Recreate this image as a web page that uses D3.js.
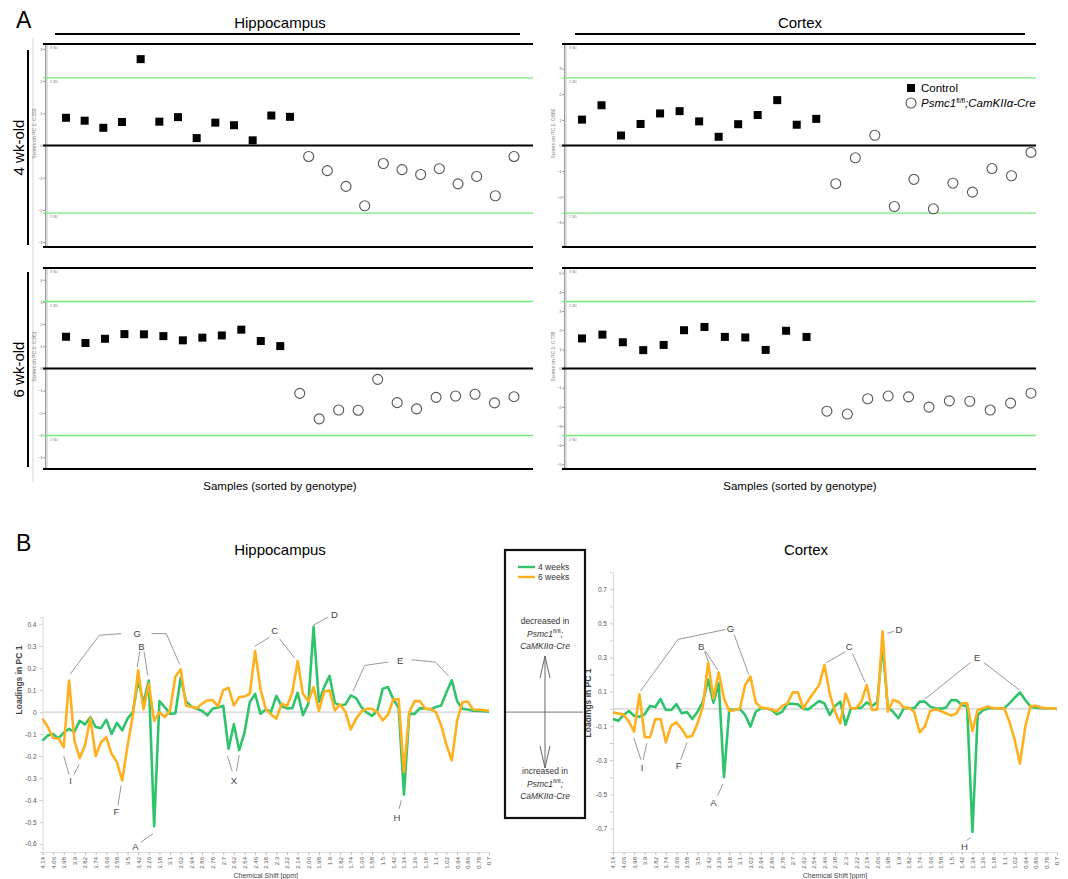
<!DOCTYPE html>
<meta charset="utf-8">
<style>
    body { margin: 0; background: #fff; }
    svg text { font-family: "Liberation Sans", Arial, sans-serif; }
</style>
<body>
<script src="https://d3js.org/d3.v7.min.js"></script>
<script>

    // ---- Panel A: PC1 scores per sample (control first, then Psmc1 cKO)
    var hippo4Ctrl = [0.86, 0.77, 0.55, 0.73, 2.68, 0.74, 0.88, 0.23, 0.71, 0.63, 0.16, 0.93, 0.89];
    var hippo4Ko = [-0.34, -0.78, -1.27, -1.87, -0.56, -0.75, -0.90, -0.72, -1.19, -0.96, -1.56, -0.34];
    var cortex4Ctrl = [1.01, 1.57, 0.39, 0.84, 1.25, 1.34, 0.94, 0.34, 0.83, 1.19, 1.77, 0.81, 1.04];
    var cortex4Ko = [-1.49, -0.48, 0.40, -2.38, -1.32, -2.47, -1.47, -1.82, -0.90, -1.18, -0.27];
    var hippo6Ctrl = [1.43, 1.15, 1.34, 1.55, 1.54, 1.46, 1.27, 1.39, 1.49, 1.75, 1.24, 1.01];
    var hippo6Ko = [-1.12, -2.27, -1.87, -1.88, -0.49, -1.54, -1.82, -1.30, -1.24, -1.16, -1.55, -1.27];
    var cortex6Ctrl = [1.57, 1.77, 1.37, 0.96, 1.23, 2.00, 2.17, 1.65, 1.62, 0.97, 1.97, 1.65];
    var cortex6Ko = [-2.23, -2.38, -1.58, -1.44, -1.48, -2.02, -1.69, -1.71, -2.17, -1.81, -1.29];
    var scoreSD = [1.05, 1.32, 1.51, 1.75];           // 1 SD in score units, per panel
    var pcExplained = ["0.333", "0.660", "0.561", "0.739"];

    // ---- Panel B: PC1 loadings per chemical-shift bin
    var shifts = [4.14, 4.10, 4.06, 4.02, 3.98, 3.94, 3.90, 3.86, 3.82, 3.78, 3.74, 3.70, 3.66, 3.62, 3.58, 3.54, 3.50, 3.46, 3.42,
        3.30, 3.26, 3.22, 3.18, 3.14, 3.10, 3.06, 3.02, 2.98, 2.94, 2.90, 2.86, 2.82, 2.78, 2.74, 2.70, 2.66, 2.62, 2.58, 2.54, 2.50,
        2.46, 2.42, 2.38, 2.34, 2.30, 2.26, 2.22, 2.18, 2.14, 2.10, 2.06, 2.02, 1.98, 1.94, 1.90, 1.86, 1.82, 1.78, 1.74, 1.70,
        1.66, 1.62, 1.58, 1.54, 1.50, 1.46, 1.42, 1.38, 1.34, 1.30, 1.26, 1.22, 1.18, 1.14, 1.10, 1.06, 1.02, 0.98, 0.94, 0.90,
        0.86, 0.82, 0.78, 0.74, 0.70];

    var hippoLoad4 = [-0.13, -0.106, -0.10, -0.12, -0.094, -0.076, -0.09, -0.04, -0.056, -0.023,
        -0.068, -0.073, -0.035, -0.099, -0.049, -0.083, -0.03, 0.0, 0.144, 0.042,
        0.144, -0.52, 0.05, 0.023, -0.008, -0.005, 0.156, 0.049, 0.026, 0.015,
        0.006, -0.015, 0.015, 0.021, 0.029, -0.167, -0.055, -0.173, -0.094, 0.046,
        0.083, -0.008, 0.012, 0.002, 0.074, 0.026, 0.017, 0.018, 0.088, -0.014,
        0.038, 0.388, 0.046, 0.114, 0.165, 0.042, 0.03, 0.035, 0.076, 0.064,
        0.023, -0.002, -0.017, 0.006, 0.106, 0.114, 0.058, 0.02, -0.376, -0.008,
        -0.008, 0.018, 0.015, 0.012, 0.023, 0.03, 0.09, 0.145, 0.05, 0.015,
        0.012, 0.006, 0.005, 0.004, 0.002];
    var hippoLoad6 = [-0.03, -0.068, -0.118, -0.12, -0.16, 0.144, -0.13, -0.21, -0.15, -0.027,
        -0.20, -0.137, -0.114, -0.19, -0.228, -0.311, -0.152, -0.015, 0.19, 0.012,
        0.129, -0.04, 0.0, -0.023, 0.008, 0.162, 0.194, 0.03, 0.023, 0.018,
        0.038, 0.053, 0.055, 0.026, 0.10, 0.111, 0.03, 0.068, 0.071, 0.083,
        0.278, 0.106, 0.015, -0.011, -0.03, 0.038, 0.027, 0.091, 0.232, 0.083,
        0.049, 0.114, 0.005, 0.094, 0.099, 0.008, 0.035, 0.0, -0.079, -0.03,
        0.003, 0.015, 0.015, 0.0, -0.038, -0.012, 0.058, 0.058, -0.273, 0.0,
        0.05, 0.05, 0.015, 0.015, 0.0, -0.06, -0.15, -0.22, -0.04, 0.045,
        0.048, 0.012, 0.011, 0.009, 0.006];
    var cortexLoad4 = [-0.06, -0.07, -0.036, -0.013, -0.04, -0.046, -0.032, 0.017, 0.011, 0.057,
        -0.007, -0.007, 0.028, -0.026, -0.018, -0.06, -0.017, 0.042, 0.172, 0.036,
        0.149, -0.40, -0.003, -0.007, 0.0, -0.036, -0.104, -0.017, 0.003, 0.003,
        -0.007, -0.032, -0.017, 0.03, 0.03, 0.026, 0.0, -0.003, 0.022, 0.046,
        0.032, -0.036, 0.017, 0.042, -0.094, 0.003, 0.003, 0.007, 0.038, 0.017,
        0.038, 0.372, 0.007, -0.017, -0.055, 0.003, 0.003, 0.003, 0.042, 0.042,
        0.013, 0.003, 0.0, 0.007, 0.052, 0.05, 0.022, 0.013, -0.72, -0.036,
        -0.009, 0.003, 0.003, 0.003, 0.003, 0.032, 0.065, 0.096, 0.052, 0.013,
        0.007, 0.003, 0.003, 0.003, 0.0];
    var cortexLoad6 = [-0.02, -0.028, -0.032, -0.075, -0.133, 0.085, -0.166, -0.166, -0.061, -0.06,
        -0.195, -0.098, -0.079, -0.118, -0.166, -0.157, -0.085, 0.013, 0.271, 0.061,
        0.213, 0.061, -0.013, -0.007, 0.0, 0.139, 0.188, 0.038, 0.007, 0.003,
        -0.003, -0.017, 0.017, 0.032, 0.096, 0.096, 0.003, 0.052, 0.096, 0.139,
        0.256, 0.09, -0.017, -0.085, 0.09, 0.003, 0.003, 0.042, 0.139, -0.007,
        -0.003, 0.454, -0.017, 0.052, 0.042, 0.007, 0.007, -0.02, -0.137, -0.104,
        -0.013, -0.003, -0.013, -0.026, -0.04, -0.026, 0.032, 0.032, -0.13, -0.007,
        0.003, 0.013, 0.003, 0.003, 0.003, -0.075, -0.182, -0.32, -0.104, 0.017,
        0.018, 0.007, 0.003, 0.003, 0.0];

    // peak annotations: label position and leader lines, in (bin index, loading)
    var hippoNotes = [
        {t: "G", p: [17.8, 0.357], l: [[[5.2, 0.173], [10.7, 0.35], [14.8, 0.357]], [[20.5, 0.358], [23.3, 0.357], [25.8, 0.217]]]},
        {t: "B", p: [18.6, 0.296], l: [[[18.3, 0.276], [17.8, 0.205]], [[19.1, 0.276], [19.8, 0.167]]]},
        {t: "I", p: [5.3, -0.314], l: [[[4.0, -0.2], [5.0, -0.285]], [[6.9, -0.238], [5.9, -0.285]]]},
        {t: "F", p: [13.9, -0.455], l: [[[14.2, -0.425], [14.8, -0.334]]]},
        {t: "A", p: [17.5, -0.612], l: [[[18.5, -0.592], [20.8, -0.554]]]},
        {t: "X", p: [36, -0.313], l: [[[34.8, -0.2], [35.7, -0.27]], [[37, -0.197], [36.5, -0.27]]]},
        {t: "C", p: [43.7, 0.369], l: [[[39.9, 0.299], [42.7, 0.341]], [[44.6, 0.334], [47.4, 0.247]]]},
        {t: "D", p: [54.9, 0.443], l: [[[50.9, 0.395], [53.7, 0.432]]]},
        {t: "E", p: [67.3, 0.234], l: [[[58.4, 0.094], [60.6, 0.212], [65, 0.228]], [[69.4, 0.238], [73.9, 0.228], [76.4, 0.164]]]},
        {t: "H", p: [66.7, -0.481], l: [[[67.1, -0.44], [67.5, -0.402]]]}
    ];
    var cortexNotes = [
        {t: "G", p: [22.2, 0.466], l: [[[5.2, 0.104], [12.3, 0.406], [21.3, 0.464]], [[22.9, 0.435], [25.7, 0.2]]]},
        {t: "B", p: [16.7, 0.365], l: [[[17.3, 0.337], [18, 0.28]], [[17.5, 0.337], [19.8, 0.227]]]},
        {t: "I", p: [5.5, -0.343], l: [[[3.9, -0.168], [5.3, -0.298]], [[6.4, -0.201], [5.7, -0.298]]]},
        {t: "F", p: [12.4, -0.334], l: [[[12.8, -0.298], [14, -0.197]]]},
        {t: "A", p: [19, -0.548], l: [[[19.8, -0.507], [20.8, -0.44]]]},
        {t: "C", p: [44.7, 0.363], l: [[[40.4, 0.271], [44, 0.334]], [[45.3, 0.324], [47.7, 0.155]]]},
        {t: "D", p: [54.1, 0.46], l: [[[51.9, 0.441], [53.2, 0.454]]]},
        {t: "E", p: [68.9, 0.3], l: [[[59, 0.057], [67.6, 0.27]], [[70.2, 0.27], [76.9, 0.11]]]},
        {t: "H", p: [66.5, -0.803], l: [[[66.9, -0.77], [67.7, -0.75]]]}
    ];

    var green = "#2fc46b", orange = "#ffb01e";
    var cko = [["Psmc1", "i"], ["fl/fl", "sup"], [";CamKIIα-Cre", "i"]];

    var svg = d3.select("body").append("svg")
        .attr("width", 1068)
        .attr("height", 879);

    // text with italic / superscript runs
    function rich(text, parts, supSize) {
        var up = false;
        parts.forEach(function(p) {
            var ts = text.append("tspan").text(p[0]);
            if (p[1] === "i") ts.style("font-style", "italic");
            if (p[1] === "sup") { ts.attr("dy", -4).style("font-size", supSize + "px"); up = true; }
            else if (up) { ts.attr("dy", 4); up = false; }
        });
        return text;
    }

    // ================= Panel A =================
    svg.append("text").attr("x", 16).attr("y", 28).style("font-size", "23px").text("A");

    [["Hippocampus", 280, 55, 520], ["Cortex", 800, 575, 1025]].forEach(function(h) {
        svg.append("text").attr("x", h[1]).attr("y", 28).attr("text-anchor", "middle")
            .style("font-size", "15px").text(h[0]);
        svg.append("line").attr("x1", h[2]).attr("x2", h[3]).attr("y1", 34).attr("y2", 34)
            .attr("stroke", "#000").attr("stroke-width", 2);
    });

    [["4 wk-old", 50, 245], ["6 wk-old", 272, 467]].forEach(function(r) {
        var cy = (r[1] + r[2]) / 2;
        svg.append("line").attr("x1", 28).attr("x2", 28).attr("y1", r[1]).attr("y2", r[2])
            .attr("stroke", "#000").attr("stroke-width", 2);
        svg.append("text").attr("transform", "translate(19," + cy + ") rotate(-90)")
            .attr("text-anchor", "middle").attr("dy", "0.35em")
            .style("font-size", "15px").text(r[0]);
    });
    // outer frame line of the hippocampus score plots
    svg.append("line").attr("x1", 33).attr("x2", 33).attr("y1", 38).attr("y2", 482)
        .attr("stroke", "#d5d5d5").attr("stroke-width", 1);

    var scorePanels = [
        {ctrl: hippo4Ctrl, ko: hippo4Ko, sd: scoreSD[0], pc: pcExplained[0], bx0: 43, bx1: 533, px0: 66, px1: 514, top: 44, bottom: 247},
        {ctrl: cortex4Ctrl, ko: cortex4Ko, sd: scoreSD[1], pc: pcExplained[1], bx0: 562, bx1: 1036, px0: 582, px1: 1031, top: 44, bottom: 247},
        {ctrl: hippo6Ctrl, ko: hippo6Ko, sd: scoreSD[2], pc: pcExplained[2], bx0: 43, bx1: 533, px0: 66, px1: 514, top: 268, bottom: 469},
        {ctrl: cortex6Ctrl, ko: cortex6Ko, sd: scoreSD[3], pc: pcExplained[3], bx0: 562, bx1: 1036, px0: 582, px1: 1031, top: 268, bottom: 469}
    ];

    scorePanels.forEach(function(p) {
        var g = svg.append("g");
        var lim = 3 * p.sd;
        var y = d3.scaleLinear().domain([-lim, lim]).range([p.bottom, p.top]);
        var n = p.ctrl.length + p.ko.length;
        var x = d3.scaleLinear().domain([0, n - 1]).range([p.px0, p.px1]);
        var ax = p.bx0 + 2;

        // axis
        g.append("line").attr("x1", ax + 2).attr("x2", ax + 2).attr("y1", p.top).attr("y2", p.bottom)
            .attr("stroke", "#bbb");
        var axis = g.append("g").attr("transform", "translate(" + ax + ",0)")
            .call(d3.axisLeft(y).tickValues(d3.range(-Math.floor(lim), Math.floor(lim) + 1))
                .tickSize(2).tickFormat(d3.format("d")));
        axis.select(".domain").attr("stroke", "#999");
        axis.selectAll(".tick line").attr("stroke", "#999");
        axis.selectAll("text").style("font-size", "4px").attr("fill", "#666").attr("x", -2.5);
        g.append("text")
            .attr("transform", "translate(" + (ax - 9) + "," + ((p.top + p.bottom) / 2 - 12) + ") rotate(-90)")
            .attr("text-anchor", "middle").style("font-size", "5px").attr("fill", "#777")
            .text("Scores on PC 1: " + p.pc);

        // reference lines: 0 and +/-3 SD black, +/-2 SD green
        [lim, 0, -lim].forEach(function(v) {
            g.append("line").attr("x1", p.bx0).attr("x2", p.bx1).attr("y1", y(v)).attr("y2", y(v))
                .attr("stroke", "#000").attr("stroke-width", 2.2);
        });
        [2 * p.sd, -2 * p.sd].forEach(function(v) {
            g.append("line").attr("x1", p.bx0).attr("x2", p.bx1).attr("y1", y(v)).attr("y2", y(v))
                .attr("stroke", "#76ec76").attr("stroke-width", 1.4);
        });
        [[lim, "3 SD"], [2 * p.sd, "2 SD"], [-2 * p.sd, "2 SD"]].forEach(function(s) {
            g.append("text").attr("x", ax + 5).attr("y", y(s[0]) + 5)
                .style("font-size", "3.5px").attr("fill", "#777").text(s[1]);
        });

        g.selectAll("rect.ctrl").data(p.ctrl).enter().append("rect")
            .attr("x", function(d, i) { return x(i) - 4; })
            .attr("y", function(d) { return y(d) - 4; })
            .attr("width", 8).attr("height", 8).attr("fill", "#000");
        g.selectAll("circle.ko").data(p.ko).enter().append("circle")
            .attr("cx", function(d, i) { return x(i + p.ctrl.length); })
            .attr("cy", function(d) { return y(d); })
            .attr("r", 5).attr("fill", "#fff").attr("stroke", "#555").attr("stroke-width", 1.1);
    });

    [280, 800].forEach(function(cx) {
        svg.append("text").attr("x", cx).attr("y", 490).attr("text-anchor", "middle")
            .style("font-size", "11.5px").text("Samples (sorted by genotype)");
    });

    // legend A
    svg.append("rect").attr("x", 907).attr("y", 84).attr("width", 8).attr("height", 8).attr("fill", "#000");
    svg.append("text").attr("x", 921).attr("y", 92).style("font-size", "11.5px").text("Control");
    svg.append("circle").attr("cx", 911).attr("cy", 103).attr("r", 5)
        .attr("fill", "#fff").attr("stroke", "#555").attr("stroke-width", 1.1);
    rich(svg.append("text").attr("x", 921).attr("y", 107).style("font-size", "11.5px"), cko, 7);

    // ================= Panel B =================
    svg.append("text").attr("x", 16).attr("y", 551).style("font-size", "23px").text("B");

    var loadPanels = [
        {title: "Hippocampus", tx: 280, s4: hippoLoad4, s6: hippoLoad6, notes: hippoNotes,
            x0: 42.5, x1: 489, yDom: [-0.637, 0.433], ticks: d3.range(-6, 5).map(function(k) { return k / 10; }),
            labelEvery: 1, ylabY: 680, ylabX: 22},
        {title: "Cortex", tx: 806, s4: cortexLoad4, s6: cortexLoad6, notes: cortexNotes,
            x0: 613, x1: 1057, yDom: [-0.837, 0.8], ticks: d3.range(-7, 8).map(function(k) { return k / 10; }),
            labelEvery: 2, ylabY: 703, ylabX: 591}
    ];

    var hipZeroY;
    loadPanels.forEach(function(p, pi) {
        var g = svg.append("g");
        var x = d3.scalePoint().domain(shifts).range([p.x0, p.x1]);
        var xi = d3.scaleLinear().domain([0, shifts.length - 1]).range([p.x0, p.x1]);
        var y = d3.scaleLinear().domain(p.yDom).range([852, pi === 0 ? 617 : 572]);
        if (pi === 0) hipZeroY = y(0);

        g.append("text").attr("x", p.tx).attr("y", 555).attr("text-anchor", "middle")
            .style("font-size", "15px").text(p.title);

        // y axis
        var ya = g.append("g").attr("transform", "translate(" + p.x0 + ",0)")
            .call(d3.axisLeft(y).tickValues(p.ticks).tickSize(3)
                .tickFormat(function(d) {
                    var k = Math.round(d * 10);
                    if (p.labelEvery === 2 && Math.abs(k) % 2 === 0) return "";
                    return k === 0 ? "0" : (k / 10).toFixed(1);
                }));
        ya.select(".domain").attr("stroke", "#d8d8d8");
        ya.selectAll(".tick line").attr("stroke", "#ccc");
        ya.selectAll("text").style("font-size", "6.5px").attr("fill", "#555").attr("x", -6);

        // x axis
        var xa = g.append("g").attr("transform", "translate(0,852)")
            .call(d3.axisBottom(x).tickSize(3)
                .tickValues(shifts.filter(function(d, i) { return i % 2 === 0; }))
                .tickFormat(function(d) { return String(d); }));
        xa.select(".domain").attr("stroke", "#ddd");
        xa.selectAll(".tick line").attr("stroke", "#bbb");
        xa.selectAll("text").style("font-size", "6px").attr("fill", "#555")
            .attr("text-anchor", "end").attr("transform", "rotate(-90)")
            .attr("x", -5).attr("y", 0).attr("dy", "0.32em");

        g.append("text").attr("x", (p.x0 + p.x1) / 2).attr("y", 878).attr("text-anchor", "middle")
            .style("font-size", "7px").attr("fill", "#444").text("Chemical Shift [ppm]");
        g.append("text").attr("transform", "translate(" + p.ylabX + "," + p.ylabY + ") rotate(-90)")
            .attr("text-anchor", "middle").style("font-size", "8.5px").style("font-weight", "bold")
            .attr("fill", "#444").text("Loadings in PC 1");

        // zero line
        g.append("line").attr("x1", p.x0).attr("x2", p.x1).attr("y1", y(0)).attr("y2", y(0))
            .attr("stroke", "#d0d0d0").attr("stroke-width", 1.2);

        var line = d3.line()
            .x(function(d, i) { return x(shifts[i]); })
            .y(function(d) { return y(d); });
        g.append("path").datum(p.s4).attr("d", line).attr("fill", "none")
            .attr("stroke", green).attr("stroke-width", 2.6).attr("stroke-linejoin", "round");
        g.append("path").datum(p.s6).attr("d", line).attr("fill", "none")
            .attr("stroke", orange).attr("stroke-width", 2.6).attr("stroke-linejoin", "round");

        // annotations
        var lead = d3.line().x(function(d) { return xi(d[0]); }).y(function(d) { return y(d[1]); });
        p.notes.forEach(function(nt) {
            nt.l.forEach(function(pts) {
                g.append("path").attr("d", lead(pts)).attr("fill", "none")
                    .attr("stroke", "#999").attr("stroke-width", 1);
            });
            g.append("text").attr("x", xi(nt.p[0])).attr("y", y(nt.p[1])).attr("dy", "0.35em")
                .attr("text-anchor", "middle").style("font-size", "9.5px").attr("fill", "#444").text(nt.t);
        });
    });

    // ---- legend / direction box between the two loading plots
    var lg = svg.append("g");
    lg.append("rect").attr("x", 505).attr("y", 550).attr("width", 80).attr("height", 268)
        .attr("fill", "#fff").attr("stroke", "#111").attr("stroke-width", 2.2);
    [["4 weeks", green, 567], ["6 weeks", orange, 577]].forEach(function(it) {
        lg.append("line").attr("x1", 518).attr("x2", 535).attr("y1", it[2]).attr("y2", it[2])
            .attr("stroke", it[1]).attr("stroke-width", 2.4);
        lg.append("text").attr("x", 538).attr("y", it[2] + 3).style("font-size", "8.5px")
            .attr("fill", "#333").text(it[0]);
    });
    lg.append("line").attr("x1", 506).attr("x2", 583).attr("y1", hipZeroY).attr("y2", hipZeroY)
        .attr("stroke", "#777").attr("stroke-width", 1);
    lg.append("line").attr("x1", 545).attr("x2", 545).attr("y1", 656).attr("y2", 768)
        .attr("stroke", "#666").attr("stroke-width", 1);
    lg.append("path").attr("d", "M540,678L545,656L550,678").attr("fill", "none").attr("stroke", "#666");
    lg.append("path").attr("d", "M540,746L545,768L550,746").attr("fill", "none").attr("stroke", "#666");

    function dirText(word, y0) {
        lg.append("text").attr("x", 545).attr("y", y0).attr("text-anchor", "middle")
            .style("font-size", "8.5px").attr("fill", "#333").text(word);
        rich(lg.append("text").attr("x", 545).attr("y", y0 + 12.5).attr("text-anchor", "middle")
            .style("font-size", "8.5px").attr("fill", "#333"), [["Psmc1", "i"], ["fl/fl", "sup"], [";", "i"]], 6);
        lg.append("text").attr("x", 545).attr("y", y0 + 25).attr("text-anchor", "middle")
            .style("font-size", "8.5px").style("font-style", "italic").attr("fill", "#333").text("CaMKIIα-Cre");
    }
    dirText("decreased in", 624);
    dirText("increased in", 774);

</script>
